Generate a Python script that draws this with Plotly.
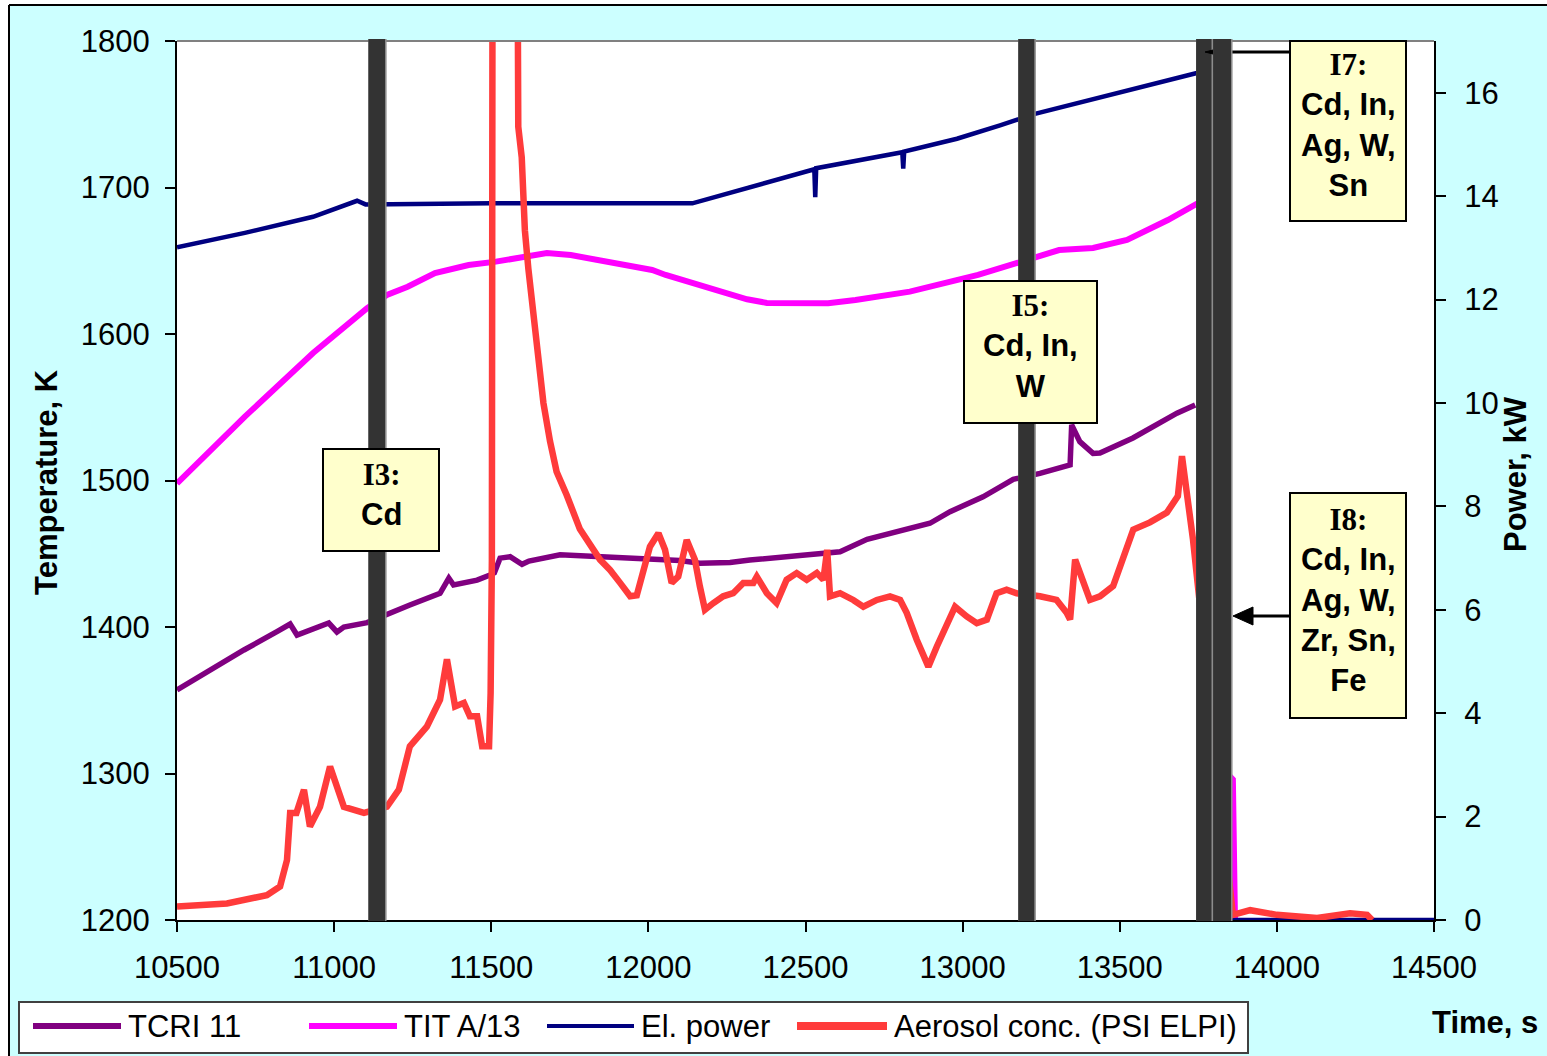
import plotly.graph_objects as go

# ---------------------------------------------------------------- data
# TCRI 11 thermocouple, K
time_tcri = [10500, 10605, 10713, 10818, 10860, 10882, 10923, 10983, 11009, 11031,
             11105, 11175, 11241, 11337, 11365, 11380, 11455, 11496, 11510, 11528,
             11560, 11598, 11620, 11719, 11846, 11910, 12100, 12164, 12260, 12323,
             12482, 12610, 12696, 12801, 12896, 12960, 13065, 13161, 13246, 13342,
             13347, 13373, 13415, 13437, 13542, 13682, 13740]
tcri_11 = [1357, 1370.6, 1384.3, 1396.8, 1402, 1394.5, 1398, 1402.7, 1396.6, 1400,
           1403, 1409.5, 1415, 1423, 1433.4, 1428.7, 1432, 1435.5, 1437, 1447,
           1448, 1442.8, 1445, 1449.3, 1448, 1446.7, 1445.4, 1443.5, 1444, 1445.7,
           1449, 1451.4, 1459.9, 1466, 1470.8, 1478.7, 1488.9, 1500.8, 1504.9, 1510.6,
           1537.9, 1526.5, 1518.5, 1518.8, 1529, 1546, 1551.5]

# TIT A/13 thermocouple, K
time_tit = [10500, 10716, 10933, 11105, 11168, 11234, 11321, 11428, 11515, 11677,
            11753, 11840, 11903, 12012, 12055, 12141, 12228, 12314, 12377, 12572,
            12659, 12832, 13049, 13176, 13307, 13415, 13523, 13653, 13749, 13836,
            13842, 13860, 13864, 13867]
tit_a13 = [1498, 1543.6, 1587, 1617.7, 1626.6, 1632.3, 1641.6, 1647.1, 1649.4, 1655.3,
           1653.9, 1650.5, 1648.7, 1643.7, 1640.3, 1634.6, 1628.9, 1623.7, 1621.2, 1621,
           1623.2, 1628.9, 1640.3, 1648.5, 1657.3, 1658.7, 1664.2, 1677.8, 1689.4, 1692,
           1300, 1296, 1230, 1195]

# Electrical power, kW
time_pow = [10500, 10716, 10933, 11073, 11100, 11500, 12140, 12528, 12531, 12534,
            12808, 12811, 12814, 12982, 13119, 13230, 13739, 13846, 13850, 14500]
el_power = [13.01, 13.29, 13.6, 13.91, 13.84, 13.86, 13.86, 14.52, 13.98, 14.54,
            14.85, 14.53, 14.86, 15.11, 15.37, 15.59, 16.37, 16.5, 0, 0]

# Aerosol concentration (PSI ELPI), plotted against the right-hand scale
time_aer = [10500, 10659, 10786, 10828, 10850, 10860, 10880, 10904, 10923, 10955,
            10987, 11031, 11095, 11168, 11206, 11241, 11295, 11337, 11359, 11385,
            11413, 11432, 11455, 11471, 11493, 11498, 11502, 11506, 11576, 11581,
            11586, 11597, 11607, 11618, 11634, 11650, 11666, 11687, 11708, 11740,
            11782, 11846, 11878, 11910, 11942, 11963, 11984, 12005, 12032, 12053,
            12074, 12095, 12122, 12148, 12164, 12180, 12207, 12238, 12270, 12302,
            12334, 12345, 12377, 12408, 12440, 12472, 12504, 12536, 12557, 12569,
            12578, 12610, 12652, 12684, 12727, 12769, 12801, 12822, 12854, 12891,
            12918, 12949, 12976, 13013, 13045, 13077, 13108, 13140, 13172, 13246,
            13299, 13331, 13342, 13358, 13379, 13405, 13437, 13479, 13543, 13596,
            13650, 13685, 13698, 13713, 13733, 13860, 13915, 14000, 14128, 14233,
            14287, 14303]
aerosol = [0.26, 0.32, 0.48, 0.65, 1.16, 2.07, 2.07, 2.52, 1.81, 2.19,
           2.97, 2.19, 2.07, 2.19, 2.52, 3.36, 3.74, 4.26, 5.04, 4.13,
           4.2, 3.94, 3.94, 3.36, 3.36, 4.39, 6.97, 30, 30, 17.05,
           15.34, 14.75, 13.34, 12.6, 11.71, 10.89, 10.0, 9.26, 8.67, 8.22,
           7.56, 6.97, 6.77, 6.52, 6.26, 6.28, 6.71, 7.22, 7.48, 7.16,
           6.52, 6.64, 7.35, 6.97, 6.45, 6.0, 6.13, 6.26, 6.32, 6.52,
           6.52, 6.64, 6.32, 6.13, 6.58, 6.71, 6.58, 6.71, 6.58, 7.16,
           6.26, 6.32, 6.19, 6.06, 6.19, 6.26, 6.19, 5.94, 5.42, 4.9,
           5.29, 5.68, 6.06, 5.87, 5.74, 5.81, 6.32, 6.39, 6.32, 6.26,
           6.19, 5.94, 5.81, 6.97, 6.58, 6.19, 6.26, 6.46, 7.55, 7.69,
           7.88, 8.2, 8.97, 8.33, 7.36, 0.1, 0.19, 0.1, 0.04, 0.13,
           0.1, 0.0]

# Sampling intervals (start, end), s
intervals = [(11109, 11167), (13177, 13233), (13743, 13797), (13797, 13859)]

# Interval labels: header and released elements
interval_labels = [
    ("I3:", ["Cd"]),
    ("I5:", ["Cd, In,", "W"]),
    ("I7:", ["Cd, In,", "Ag, W,", "Sn"]),
    ("I8:", ["Cd, In,", "Ag, W,", "Zr, Sn,", "Fe"]),
]

series_names = ["TCRI 11", "TIT A/13", "El. power", "Aerosol conc. (PSI ELPI)"]
series_colors = ["#800080", "#FF00FF", "#000080", "#FF3B3B"]

x_ticks = [10500, 11000, 11500, 12000, 12500, 13000, 13500, 14000, 14500]

# ---------------------------------------------------------------- layout geometry
W, H = 1547, 1056
L, R, T, B = 177, 1434, 41, 920          # plot area in pixels
FONT = "Liberation Sans, Arial, Helvetica, sans-serif"
SERIF = "Liberation Serif, Times New Roman, serif"


def fx(px):
    return (px - L) / (R - L)


def fy(py):
    return (B - py) / (B - T)


fig = go.Figure()

widths = [5.5, 6, 4.5, 6.5]
xs = [time_tcri, time_tit, time_pow, time_aer]
ys = [tcri_11, tit_a13, el_power, aerosol]
axes = ["y", "y", "y2", "y2"]
for name, color, w, xv, yv, ax in zip(series_names, series_colors, widths, xs, ys, axes):
    fig.add_trace(go.Scatter(x=xv, y=yv, name=name, mode="lines", yaxis=ax,
                             line=dict(color=color, width=w), showlegend=False,
                             hoverinfo="skip"))

shapes = []
annotations = []

# light-cyan chart frame with white surround
shapes.append(dict(type="rect", xref="paper", yref="paper", layer="below",
                   x0=fx(-10), x1=fx(9), y0=fy(H + 10), y1=fy(-10),
                   fillcolor="white", line=dict(width=0)))
shapes.append(dict(type="rect", xref="paper", yref="paper", layer="below",
                   x0=fx(-10), x1=fx(W + 10), y0=fy(5), y1=fy(-10),
                   fillcolor="white", line=dict(width=0)))
shapes.append(dict(type="line", xref="paper", yref="paper", layer="below",
                   x0=fx(9), x1=fx(9), y0=fy(5), y1=fy(H + 10),
                   line=dict(color="black", width=2)))
shapes.append(dict(type="line", xref="paper", yref="paper", layer="below",
                   x0=fx(9), x1=fx(W + 10), y0=fy(5), y1=fy(5),
                   line=dict(color="black", width=2)))

# grey top edge of the plot area
shapes.append(dict(type="line", xref="paper", yref="paper",
                   x0=0, x1=1, y0=1, y1=1, line=dict(color="#808080", width=2)))


def bar(t0, t1):
    return [
        dict(type="rect", xref="x", yref="paper", x0=t0, x1=t1,
             y0=fy(921), y1=fy(39), fillcolor="#8C8C8C", line=dict(width=0)),
        dict(type="rect", xref="x", yref="paper", x0=t0, x1=t1 - 5,
             y0=fy(921), y1=fy(39), fillcolor="#333333", line=dict(width=0)),
    ]


def arrow(x_tip, y, x_tail, head_len, half_h):
    return [
        dict(type="line", xref="paper", yref="paper",
             x0=fx(x_tip + head_len - 2), x1=fx(x_tail), y0=fy(y), y1=fy(y),
             line=dict(color="black", width=3)),
        dict(type="path", xref="paper", yref="paper",
             path="M {} {} L {} {} L {} {} Z".format(
                 fx(x_tip), fy(y), fx(x_tip + head_len), fy(y - half_h),
                 fx(x_tip + head_len), fy(y + half_h)),
             fillcolor="black", line=dict(color="black", width=1)),
    ]


shapes += bar(*intervals[0])
shapes += bar(*intervals[1])
shapes += bar(*intervals[2])
shapes += arrow(1205, 52, 1290, 20, 5)
shapes += bar(*intervals[3])
shapes += arrow(1233, 616, 1290, 20, 9)

# interval label boxes: (left, top, right, bottom) in pixels
boxes = [(323, 449, 439, 551), (964, 281, 1097, 423),
         (1290, 41, 1406, 221), (1290, 493, 1406, 718)]
for (head, lines), (x0, y0, x1, y1) in zip(interval_labels, boxes):
    shapes.append(dict(type="rect", xref="paper", yref="paper",
                       x0=fx(x0), x1=fx(x1), y0=fy(y1), y1=fy(y0),
                       fillcolor="#FFFFCC", line=dict(color="black", width=2)))
    text = "<span style='font-family:{}'><b>{}</b></span><br>".format(SERIF, head)
    text += "<br>".join("<b>{}</b>".format(s) for s in lines)
    annotations.append(dict(xref="paper", yref="paper",
                            x=fx((x0 + x1) / 2), y=fy((y0 + y1) / 2 - 6),
                            xanchor="center", yanchor="middle", showarrow=False,
                            text=text, align="center",
                            font=dict(family=FONT, size=31, color="black")))

# legend frame, samples and labels
shapes.append(dict(type="rect", xref="paper", yref="paper",
                   x0=fx(19), x1=fx(1248), y0=fy(1053), y1=fy(1002),
                   fillcolor="white", line=dict(color="#404040", width=2)))
legend_lines = [(33, 121, 6), (309, 397, 6), (547, 634, 4), (797, 887, 8)]
legend_text_x = [126, 402, 639, 892]
for (x0, x1, lw), tx, name, color in zip(legend_lines, legend_text_x,
                                         series_names, series_colors):
    shapes.append(dict(type="line", xref="paper", yref="paper",
                       x0=fx(x0), x1=fx(x1), y0=fy(1026), y1=fy(1026),
                       line=dict(color=color, width=lw)))
    annotations.append(dict(xref="paper", yref="paper", x=fx(tx), y=fy(1026),
                            xanchor="left", yanchor="middle", showarrow=False,
                            text=name, font=dict(family=FONT, size=31, color="black")))

# axis titles
annotations.append(dict(xref="paper", yref="paper", x=fx(46), y=fy(482),
                        xanchor="center", yanchor="middle", showarrow=False,
                        textangle=-90, text="<b>Temperature, K</b>",
                        font=dict(family=FONT, size=31, color="black")))
annotations.append(dict(xref="paper", yref="paper", x=fx(1515), y=fy(474),
                        xanchor="center", yanchor="middle", showarrow=False,
                        textangle=-90, text="<b>Power, kW</b>",
                        font=dict(family=FONT, size=31, color="black")))
annotations.append(dict(xref="paper", yref="paper", x=fx(1485), y=fy(1023),
                        xanchor="center", yanchor="middle", showarrow=False,
                        text="<b>Time, s</b>",
                        font=dict(family=FONT, size=31, color="black")))

tick_font = dict(family=FONT, size=31, color="black")
fig.update_layout(
    width=W, height=H,
    margin=dict(l=L, r=W - R, t=T, b=H - B),
    paper_bgcolor="#CCFFFF", plot_bgcolor="white",
    showlegend=False,
    xaxis=dict(range=[10500, 14500], tickvals=x_ticks, tickformat="d",
               showgrid=False, zeroline=False, showline=True, linecolor="black",
               linewidth=2, ticks="outside", ticklen=10, tickcolor="black",
               tickwidth=1.5, tickfont=tick_font, ticklabelstandoff=9),
    yaxis=dict(range=[1200, 1800], dtick=100, tick0=1200, showgrid=False,
               zeroline=False, showline=True, linecolor="black", linewidth=2,
               ticks="outside", ticklen=10, tickcolor="black", tickwidth=1.5,
               tickfont=tick_font, ticklabelstandoff=9),
    yaxis2=dict(range=[0, 17], dtick=2, tick0=0, overlaying="y", side="right",
                showgrid=False, zeroline=False, showline=True, linecolor="black",
                linewidth=2, ticks="outside", ticklen=10, tickcolor="black",
                tickwidth=1.5, tickfont=tick_font, ticklabelstandoff=12),
    shapes=shapes,
    annotations=annotations,
)

fig.write_html("out.html")
